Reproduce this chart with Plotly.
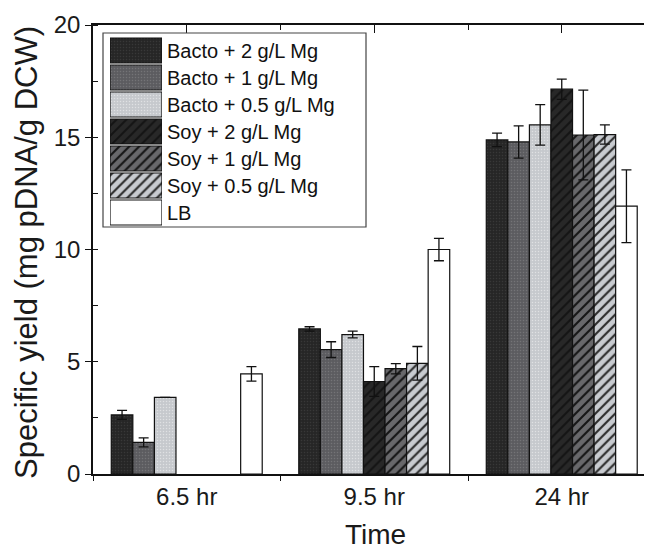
import plotly.graph_objects as go

# ---------------- data ----------------
categories = ["6.5 hr", "9.5 hr", "24 hr"]
series_names = ["Bacto + 2 g/L Mg", "Bacto + 1 g/L Mg", "Bacto + 0.5 g/L Mg",
                "Soy + 2 g/L Mg", "Soy + 1 g/L Mg", "Soy + 0.5 g/L Mg", "LB"]

bacto2 = [2.63, 6.46, 14.88]
bacto2_err = [0.2, 0.1, 0.3]
bacto1 = [1.41, 5.54, 14.79]
bacto1_err = [0.2, 0.35, 0.72]
bacto05 = [3.41, 6.21, 15.55]
bacto05_err = [None, 0.15, 0.9]
soy2 = [None, 4.12, 17.14]
soy2_err = [None, 0.66, 0.45]
soy1 = [None, 4.69, 15.10]
soy1_err = [None, 0.23, 2.0]
soy05 = [None, 4.93, 15.12]
soy05_err = [None, 0.75, 0.43]
lb = [4.46, 10.0, 11.93]
lb_err = [0.32, 0.5, 1.62]

values = [bacto2, bacto1, bacto05, soy2, soy1, soy05, lb]
errors = [bacto2_err, bacto1_err, bacto05_err, soy2_err, soy1_err, soy05_err, lb_err]

y_ticks = [0, 5, 10, 15, 20]
x_title = "Time"
y_title = "Specific yield (mg pDNA/g DCW)"

# ---------------- styles ----------------
styles = [
    dict(shape=".", bg="#262626", fg="#383838", size=3, sol=0.2),
    dict(shape=".", bg="#5c5c60", fg="#747477", size=3, sol=0.2),
    dict(shape=".", bg="#c6c9cd", fg="#dfe1e3", size=3, sol=0.2),
    dict(shape="/", bg="#282828", fg="#141414", size=7, sol=0.3),
    dict(shape="/", bg="#68686b", fg="#151515", size=7, sol=0.3),
    dict(shape="/", bg="#c8cbd0", fg="#2a2a2a", size=7, sol=0.3),
    dict(shape="", bg="#ffffff", fg="#ffffff", size=7, sol=0.3),
]

FONT = "Liberation Sans, Arial, Helvetica, sans-serif"
OFF = 8                     # default page body margin
W, H = 652 - OFF, 552 - OFF
ML, MR, MT, MB = 93 - OFF, 0, 25 - OFF, 78
PW, PH = W - ML - MR, H - MT - MB


def px_x(p):
    return (p - OFF - ML) / PW


def px_y(p):
    return (H - MB - (p - OFF)) / PH


def pattern(st):
    return dict(shape=st["shape"], bgcolor=st["bg"], fgcolor=st["fg"],
                size=st["size"], solidity=st["sol"], fillmode="replace")


fig = go.Figure()

for name, vals, errs, st in zip(series_names, values, errors, styles):
    fig.add_trace(go.Bar(
        x=categories, y=vals, name=name,
        marker=dict(color=st["bg"], line=dict(color="#111111", width=1.2),
                    pattern=pattern(st)),
        error_y=dict(type="data", array=errs, visible=True, color="#111111",
                     thickness=1.3, width=5),
        showlegend=False,
    ))

# legend swatches drawn as an inset bar chart (one bar per series, same slot)
for name, st in zip(series_names, styles):
    fig.add_trace(go.Bar(
        x=[1], y=[name], orientation="h", xaxis="x2", yaxis="y2",
        offsetgroup="legend", width=0.926, showlegend=False, hoverinfo="skip",
        marker=dict(color=st["bg"], line=dict(color="#111111", width=1.2),
                    pattern=pattern(st)),
    ))

# helper traces for inward mirrored ticks (top / right)
fig.add_trace(go.Scatter(x=[None], y=[None], xaxis="x3", yaxis="y",
                         showlegend=False, hoverinfo="skip"))
fig.add_trace(go.Scatter(x=[None], y=[None], xaxis="x", yaxis="y3",
                         showlegend=False, hoverinfo="skip"))

xr = [-0.5, -0.5 + PW / 187.5]

fig.update_layout(
    width=W, height=H,
    margin=dict(l=ML, r=MR, t=MT, b=MB, pad=0),
    paper_bgcolor="white", plot_bgcolor="white",
    font=dict(family=FONT, color="#1a1a1a"),
    barmode="group", bargap=0.195, bargroupgap=0,
    showlegend=False,
    xaxis=dict(
        type="category", range=xr, showgrid=False, automargin=False,
        showline=True, linecolor="#111111", linewidth=1.5, mirror=True,
        ticks="outside", tickson="boundaries", ticklen=5, tickwidth=1.3, tickcolor="#111111",
        tickfont=dict(size=24, family=FONT, color="#1a1a1a"),
    ),
    yaxis=dict(
        range=[0, 20], tickvals=y_ticks, showgrid=False, zeroline=False, automargin=False,
        showline=True, linecolor="#111111", linewidth=1.5, mirror=False,
        ticks="outside", ticklen=6, tickwidth=1.3, tickcolor="#111111",
        minor=dict(ticks="inside", dtick=2.5, ticklen=5, tickwidth=1.2, tickcolor="#111111",
                   showgrid=False),
        tickfont=dict(size=24, family=FONT, color="#1a1a1a"),
    ),
    xaxis2=dict(domain=[px_x(110), px_x(162)], range=[0, 1], visible=False,
                anchor="y2", fixedrange=True, automargin=False),
    yaxis2=dict(domain=[px_y(226), px_y(37)], type="category", categoryarray=series_names,
                categoryorder="array", autorange="reversed", anchor="x2", side="right",
                showgrid=False, showline=False, zeroline=False, ticks="", ticklabelstandoff=4,
                automargin=False,
                tickfont=dict(size=20, family=FONT, color="#111111")),
    xaxis3=dict(overlaying="x", side="top", anchor="y", range=xr, showgrid=False,
                showline=False, zeroline=False, showticklabels=False, automargin=False,
                tickvals=[0, 1, 2], ticks="inside", ticklen=8, tickwidth=1.3, tickcolor="#111111",
                minor=dict(tickvals=[0.5, 1.5, 2.5], ticks="inside", ticklen=5,
                           tickwidth=1.2, tickcolor="#111111")),
    yaxis3=dict(overlaying="y", side="right", anchor="x", range=[0, 20], showgrid=False,
                showline=False, zeroline=False, showticklabels=False, automargin=False,
                dtick=2.5, tick0=0, ticks="inside", ticklen=5, tickwidth=1.2, tickcolor="#111111"),
    shapes=[dict(type="rect", xref="paper", yref="paper",
                 x0=px_x(103), x1=px_x(366), y0=px_y(227), y1=px_y(33),
                 line=dict(color="#444444", width=1.2), fillcolor="rgba(0,0,0,0)",
                 layer="above")],
    annotations=[
        dict(text=x_title, xref="paper", yref="paper", x=px_x(375), y=px_y(551),
             xanchor="center", yanchor="bottom", showarrow=False, borderpad=0,
             font=dict(size=28, family=FONT, color="#1a1a1a")),
        dict(text=y_title, xref="paper", yref="paper", x=px_x(26), y=px_y(253),
             xanchor="center", yanchor="middle", showarrow=False, textangle=-90,
             font=dict(size=31, family=FONT, color="#1a1a1a")),
    ],
)

fig.write_html("out.html")
